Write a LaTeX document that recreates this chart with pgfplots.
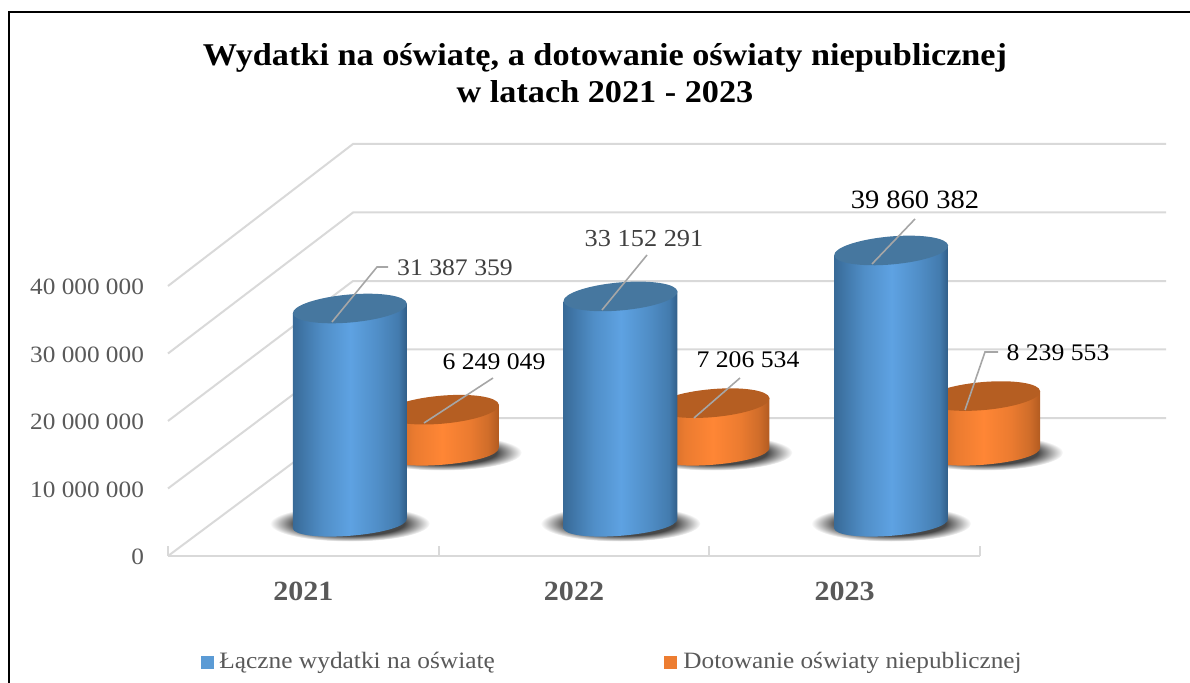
\documentclass[border=0pt]{standalone}
\usepackage{pgfplots}
\pgfplotsset{compat=1.18}
\usepackage{fontspec}
\setmainfont[FakeStretch=1.08]{Liberation Serif}
\definecolor{gridc}{HTML}{D9D9D9}
\definecolor{tickc}{HTML}{595959}
\definecolor{lblc}{HTML}{404040}
\definecolor{leadc}{HTML}{A6A6A6}
\definecolor{bluetop}{HTML}{46779F}
\definecolor{orangetop}{HTML}{B55E22}
\definecolor{bluemain}{HTML}{5B9BD5}
\definecolor{orangemain}{HTML}{ED7D31}
\definecolor{BLa}{HTML}{386A97}
\definecolor{BLb}{HTML}{437BAE}
\definecolor{BLc}{HTML}{508EC7}
\definecolor{BLd}{HTML}{5EA2E2}
\definecolor{BLe}{HTML}{2F5B84}
\definecolor{ORa}{HTML}{B55E22}
\definecolor{ORb}{HTML}{D06D2A}
\definecolor{ORc}{HTML}{EB7B30}
\definecolor{ORd}{HTML}{FF8635}
\definecolor{ORe}{HTML}{B05A20}
\pgfdeclarehorizontalshading{bluecyl}{100bp}{color(0bp)=(BLa);color(25bp)=(BLa);color(31bp)=(BLb);color(38bp)=(BLc);color(50bp)=(BLd);color(62bp)=(BLc);color(71bp)=(BLb);color(75bp)=(BLe);color(100bp)=(BLe)}
\pgfdeclarehorizontalshading{orangecyl}{100bp}{color(0bp)=(ORa);color(25bp)=(ORa);color(31bp)=(ORb);color(38bp)=(ORc);color(50bp)=(ORd);color(62bp)=(ORc);color(70bp)=(ORb);color(75bp)=(ORe);color(100bp)=(ORe)}
\colorlet{shadowc}{black!72}
\pgfdeclareradialshading{cylshadow}{\pgfpoint{0bp}{0bp}}{color(0bp)=(shadowc);color(17bp)=(shadowc);color(25bp)=(white);color(50bp)=(white)}
% whole cylinder drawn as a plot mark at the data point; #1 x offset, #2 upward offset, #3 shading, #4 top colour
\newcommand\cylmark[4]{%
  \pgfmathsetmacro\cyloff{#2+0.05*\vm}%
  \pgfmathsetmacro\cylh{3.425*\vm}%
  \pgfmathsetmacro\oy{\cyloff}%
  \pgfmathsetmacro\oyb{\cyloff-\cylh}%
  \def\ox{#1}%
  \path[draw=none,shading=cylshadow] ({\ox pt},{\oyb pt}) ellipse [x radius=40pt,y radius=9pt];
  \path[draw=none,shading=#3]
    ({\ox pt-28.49pt},{\oy pt-2.49pt}) -- ({\ox pt-28.49pt},{\oyb pt-2.49pt})
    .. controls ({\ox pt-28.15pt},{\oyb pt-5.8pt}) and ({\ox pt-15.13pt},{\oyb pt-7.4pt}) .. ({\ox pt+0.61pt},{\oyb pt-6.1pt})
    .. controls ({\ox pt+16.35pt},{\oyb pt-4.8pt}) and ({\ox pt+28.83pt},{\oyb pt-1.36pt}) .. ({\ox pt+28.49pt},{\oyb pt+2.49pt})
    -- ({\ox pt+28.49pt},{\oy pt+2.49pt}) -- cycle;
  \path[draw=none,fill=#4]
    ({\ox pt-28.49pt},{\oy pt-2.49pt})
    .. controls ({\ox pt-28.15pt},{\oy pt-6.34pt}) and ({\ox pt-15.13pt},{\oy pt-8.35pt}) .. ({\ox pt+0.61pt},{\oy pt-6.97pt})
    .. controls ({\ox pt+16.35pt},{\oy pt-5.60pt}) and ({\ox pt+28.83pt},{\oy pt-1.36pt}) .. ({\ox pt+28.49pt},{\oy pt+2.49pt})
    .. controls ({\ox pt+28.15pt},{\oy pt+6.34pt}) and ({\ox pt+15.13pt},{\oy pt+8.35pt}) .. ({\ox pt-0.61pt},{\oy pt+6.97pt})
    .. controls ({\ox pt-16.35pt},{\oy pt+5.60pt}) and ({\ox pt-28.83pt},{\oy pt+1.36pt}) .. ({\ox pt-28.49pt},{\oy pt-2.49pt}) -- cycle;
}
\pgfdeclareplotmark{bluecylinder}{\cylmark{23.25}{16.25}{bluecyl}{bluetop}}
\pgfdeclareplotmark{orangecylinder}{\cylmark{69.25}{51.75}{orangecyl}{orangetop}}
\newcommand\fs[1]{\fontsize{#1}{#1}\selectfont}
\begin{document}
\begin{tikzpicture}[x=0.5pt,y=-0.5pt]
\begin{axis}[
  at={(84pt,-278pt)},anchor=south west,
  scale only axis,width=406pt,height=135pt,
  xmin=-0.5,xmax=2.5,ymin=0,ymax=40,
  clip=false,
  axis x line*=bottom,axis y line*=left,
  axis line style={-},
  x axis line style={draw=gridc,line width=1pt},
  y axis line style={draw=none},
  xtick={0,1,2},xticklabels={2021,2022,2023},
  ytick={0,10,20,30,40},
  yticklabels={0,10 000 000,20 000 000,30 000 000,40 000 000},
  major tick length=0pt,
  extra x ticks={-0.5,0.5,1.5,2.5},
  extra x tick labels={},
  extra x tick style={major tick length=5pt,tick style={draw=gridc,line width=1pt}},
  xticklabel style={font=\fs{13.9}\bfseries,text=tickc,yshift=-9.5pt},
  yticklabel style={font=\fs{11.7},text=tickc,xshift=-8.5pt,yshift=-0.5pt},
]
% walls
\addplot[gridc,line width=1pt,forget plot] coordinates {(-0.5,0) (0.1835,20.444) (3.1872,20.444)};
\addplot[gridc,line width=1pt,forget plot] coordinates {(-0.5,10) (0.1835,30.593) (3.1872,30.593)};
\addplot[gridc,line width=1pt,forget plot] coordinates {(-0.5,20) (0.1835,40.74) (3.1872,40.74)};
\addplot[gridc,line width=1pt,forget plot] coordinates {(-0.5,30) (0.1835,50.89) (3.1872,50.89)};
\addplot[gridc,line width=1pt,forget plot] coordinates {(-0.5,40) (0.1835,61.04) (3.1872,61.04)};
% Dotowanie (values in millions)
\addplot[only marks,scatter,mark=orangecylinder,visualization depends on={rawy \as \vm}]
  coordinates {(0,6.249049) (1,7.206534) (2,8.239553)};
% Laczne wydatki (values in millions)
\addplot[only marks,scatter,mark=bluecylinder,visualization depends on={rawy \as \vm}]
  coordinates {(0,31.387359) (1,33.152291) (2,39.860382)};
\end{axis}
% frame
\draw[black,line width=1pt] (8.5,683) -- (8.5,12.5) -- (1190,12.5);
% title
\node[font=\fs{15.85}\bfseries,align=center,anchor=center] at (605,73) {Wydatki na oświatę, a dotowanie oświaty niepublicznej\\[3pt]w latach 2021 - 2023};
% leaders
\draw[leadc,line width=0.8pt] (332,322) -- (377,267) -- (388,267);
\draw[leadc,line width=0.8pt] (424,423) -- (493,378);
\draw[leadc,line width=0.8pt] (602,310) -- (647,255);
\draw[leadc,line width=0.8pt] (694,418) -- (740,378);
\draw[leadc,line width=0.8pt] (872,264) -- (915,219);
\draw[leadc,line width=0.8pt] (965,410) -- (985,352) -- (998,352);
% data labels
\node[font=\fs{11.9},text=lblc] at (455,268) {31 387 359};
\node[font=\fs{11.9}] at (494,362) {6 249 049};
\node[font=\fs{12.2},text=lblc] at (644,239) {33 152 291};
\node[font=\fs{11.9}] at (748,360) {7 206 534};
\node[font=\fs{13.2}] at (915,200) {39 860 382};
\node[font=\fs{11.9}] at (1058,353) {8 239 553};
% legend
\fill[bluemain] (201,656) rectangle (214,669);
\node[font=\fs{11.75},text=tickc,anchor=west,inner sep=0pt] at (219,663) {Łączne wydatki na oświatę};
\fill[orangemain] (664,656) rectangle (677,669);
\node[font=\fs{11.7},text=tickc,anchor=west,inner sep=0pt] at (683,663) {Dotowanie oświaty niepublicznej};
\pgfresetboundingbox
\path[use as bounding box] (0,0) rectangle (1190,683);
\end{tikzpicture}
\end{document}
